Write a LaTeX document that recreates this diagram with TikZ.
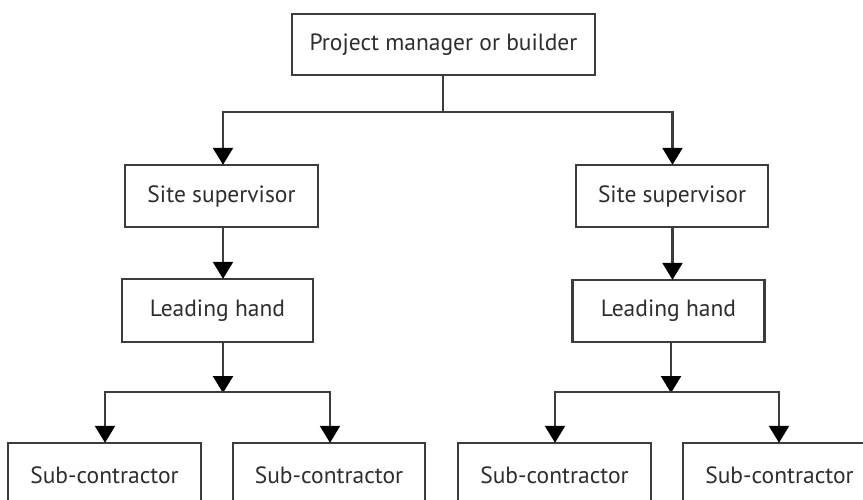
\documentclass[tikz,border=0pt]{standalone}
\usepackage{fontspec}
\setmainfont{PT Sans}
\usetikzlibrary{arrows.meta}
\definecolor{ln}{HTML}{3C3C3C}
\definecolor{tx}{HTML}{2E2E2E}
\tikzset{
  box/.style={draw=ln, line width=2.4pt, fill=white, inner sep=0pt, text=tx,
    font=\fontsize{23.5}{27}\selectfont},
  conn/.style={draw=ln, line width=2.4pt},
  arr/.style={conn, -{Triangle[length=17pt,width=20pt,color=black]}, shorten >=-1pt}
}
\begin{document}
\begin{tikzpicture}[x=1pt,y=-1pt]
\useasboundingbox (0,0) rectangle (863,499);
\clip (0,0) rectangle (863,499);
\node[box, minimum width=303pt, minimum height=61pt] (top) at (443.5,44.5) {Project manager or builder};
\node[box, minimum width=193pt, minimum height=62pt] (ssL) at (221.5,196) {Site supervisor};
\node[box, minimum width=192pt, minimum height=62pt] (ssR) at (672,196) {Site supervisor};
\node[box, minimum width=191pt, minimum height=63pt] (lhL) at (217.5,310.5) {Leading hand};
\node[box, minimum width=192pt, minimum height=62pt] (lhR) at (668.5,311) {Leading hand};
\node[box, minimum width=193pt, minimum height=64pt] (sc1) at (104.5,475) {Sub-contractor};
\node[box, minimum width=192pt, minimum height=64pt] (sc2) at (329,475) {Sub-contractor};
\node[box, minimum width=193pt, minimum height=64pt] (sc3) at (554.5,475) {Sub-contractor};
\node[box, minimum width=193pt, minimum height=64pt] (sc4) at (779.5,475) {Sub-contractor};
% junctions
\coordinate (hT) at (443,112);
\coordinate (xL) at (223,0);
\coordinate (xR) at (672.5,0);
\coordinate (jL) at (223,392);
\coordinate (jR) at (671,392);
\coordinate (bL1) at (105,0);
\coordinate (bL2) at (330,0);
\coordinate (bR1) at (555,0);
\coordinate (bR2) at (779,0);
% top level
\draw[conn] (top.south -| hT) -- (hT);
\draw[arr] (hT) -| (ssL.north -| xL);
\draw[arr] (hT) -| (ssR.north -| xR);
% supervisors to leading hands
\draw[arr] (ssL.south -| xL) -- (lhL.north -| xL);
\draw[arr] (ssR.south -| xR) -- (lhR.north -| xR);
% leading hands to junctions
\draw[arr] (lhL.south -| jL) -- (jL);
\draw[arr] (lhR.south -| jR) -- (jR);
% branches
\draw[arr] (jL) -| (sc1.north -| bL1);
\draw[arr] (jL) -| (sc2.north -| bL2);
\draw[arr] (jR) -| (sc3.north -| bR1);
\draw[arr] (jR) -| (sc4.north -| bR2);
\end{tikzpicture}
\end{document}
